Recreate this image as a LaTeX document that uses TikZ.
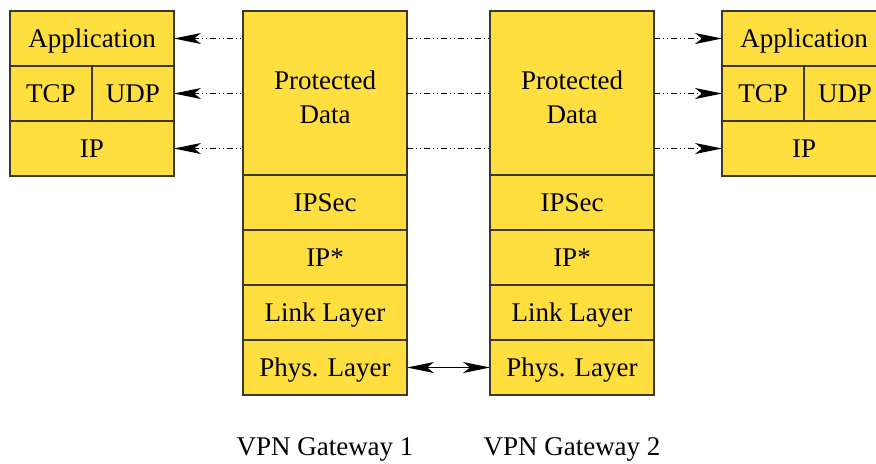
\documentclass[tikz,border=0pt]{standalone}
\usepackage{fontspec}
\setmainfont{Liberation Serif}
\usetikzlibrary{arrows.meta,positioning}

\definecolor{layerfill}{RGB}{255,222,64}
\definecolor{layerline}{RGB}{60,55,40}

\begin{document}
\begin{tikzpicture}[
  x=0.5pt, y=-0.5pt,
  font=\fontsize{13.5pt}{17pt}\selectfont,
  >={Stealth[length=13.5pt,width=5.5pt,inset=3.5pt]},
  cell/.style={
    draw=layerline,
    line width=0.55pt,
    fill=layerfill,
    outer sep=0pt,
    inner sep=0pt,
    minimum width=82pt,
    minimum height=27.5pt,
    text height=11.9pt,
    text depth=3pt,
    align=center
  },
  halfcell/.style={cell, minimum width=41pt},
  datacell/.style={cell, minimum height=82pt, text height=35.2pt, text depth=4.7pt},
  flow/.style={line width=0.5pt,
    dash pattern=on 3pt off 1.5pt on 0.5pt off 1.5pt on 0.5pt off 1.5pt},
  link/.style={<->, line width=0.5pt}
]
\path[use as bounding box, clip] (0,0) rectangle (876,463);

% host on the left
\node[cell, anchor=north west] (lapp) at (10,11) {Application};
\node[halfcell, anchor=north west] (ltcp) at (lapp.south west) {TCP};
\node[halfcell, anchor=north west] (ludp) at (ltcp.north east) {UDP};
\node[cell, anchor=north west] (lip) at (ltcp.south west) {IP};

% gateway 1
\node[datacell, anchor=north west] (gadata) at (243,11) {Protected\\Data};
\node[cell, below=0pt of gadata] (gasec) {IPSec};
\node[cell, below=0pt of gasec] (gaip) {IP*};
\node[cell, below=0pt of gaip] (galink) {Link Layer};
\node[cell, below=0pt of galink] (gaphys) {Phys. Layer};

% gateway 2
\node[datacell, anchor=north west] (gbdata) at (490,11) {Protected\\Data};
\node[cell, below=0pt of gbdata] (gbsec) {IPSec};
\node[cell, below=0pt of gbsec] (gbip) {IP*};
\node[cell, below=0pt of gbip] (gblink) {Link Layer};
\node[cell, below=0pt of gblink] (gbphys) {Phys. Layer};

% host on the right
\node[cell, anchor=north west] (rapp) at (722,11) {Application};
\node[halfcell, anchor=north west] (rtcp) at (rapp.south west) {TCP};
\node[halfcell, anchor=north west] (rudp) at (rtcp.north east) {UDP};
\node[cell, anchor=north west] (rip) at (rtcp.south west) {IP};

\node[anchor=base] (ganame) at (325,455) {VPN Gateway 1};
\node[anchor=base] (gbname) at (572,455) {VPN Gateway 2};

% tunnelled flows
\foreach \l/\r in {lapp/rapp, ludp/rtcp, lip/rip} {
  \draw[flow, <-] (\l.east) -- (\l.east -| gadata.west);
  \draw[flow] (\l.east -| gadata.east) -- (\l.east -| gbdata.west);
  \draw[flow, ->] (\l.east -| gbdata.east) -- (\r.west);
}

\draw[link] (gaphys) -- (gbphys);

\end{tikzpicture}
\end{document}
